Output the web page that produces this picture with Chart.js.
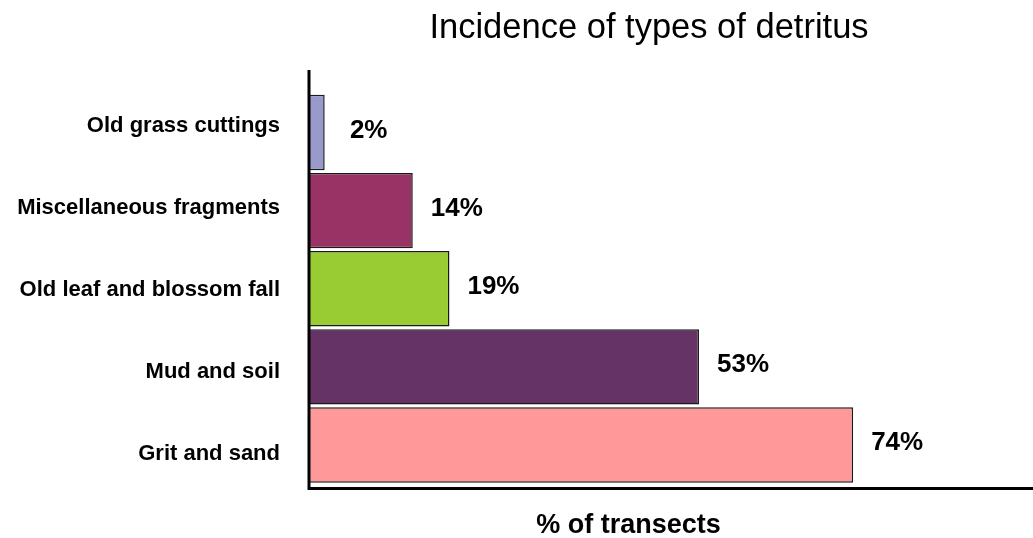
<!DOCTYPE html>
<html>
<head>
<meta charset="utf-8">
<script src="https://cdn.jsdelivr.net/npm/chart.js@4.4.1/dist/chart.umd.min.js"></script>
<style>
    body { margin: 0; background: #fff; }
    #wrap { width: 1033px; height: 538px; position: relative; }
</style>
</head>
<body>
<div id="wrap"><canvas id="detritusChart"></canvas></div>
<script>
// data
const categories = ['Old grass cuttings', 'Miscellaneous fragments', 'Old leaf and blossom fall', 'Mud and soil', 'Grit and sand'];
const percentValues = [2, 14, 19, 53, 74];
const valueLabels = ['2%', '14%', '19%', '53%', '74%'];
const chartTitle = 'Incidence of types of detritus';
const xAxisTitle = '% of transects';

const barColors = ['#9999cc', '#993366', '#99cc33', '#663366', '#ff9999'];
const FONT = '"Liberation Sans", Arial, sans-serif';

// axis lines, value labels and titles
const extrasPlugin = {
    id: 'extras',
    afterDatasetsDraw(chart) {
        const { ctx, chartArea } = chart;
        const meta = chart.getDatasetMeta(0);
        ctx.save();

        ctx.strokeStyle = '#000';
        ctx.lineWidth = 3;
        ctx.beginPath();
        ctx.moveTo(chartArea.left - 1, chartArea.top - 23.5);
        ctx.lineTo(chartArea.left - 1, chartArea.bottom + 6);
        ctx.moveTo(chartArea.left - 2.5, chartArea.bottom + 4.5);
        ctx.lineTo(chart.width, chartArea.bottom + 4.5);
        ctx.stroke();

        ctx.fillStyle = '#000';
        ctx.textAlign = 'center';
        ctx.textBaseline = 'middle';
        ctx.font = 'bold 26px ' + FONT;
        meta.data.forEach((bar, i) => {
            ctx.fillText(valueLabels[i], bar.x + 44, bar.y - 2);
        });

        ctx.textBaseline = 'alphabetic';
        ctx.font = '34.5px ' + FONT;
        ctx.fillText(chartTitle, 649, 38);
        ctx.font = 'bold 27px ' + FONT;
        ctx.fillText(xAxisTitle, 628.5, 533);

        ctx.restore();
    }
};

new Chart(document.getElementById('detritusChart'), {
    type: 'bar',
    data: {
        labels: categories,
        datasets: [{
            data: percentValues,
            backgroundColor: barColors,
            borderColor: '#1a1a1a',
            borderWidth: 1.5,
            barPercentage: 0.965,
            categoryPercentage: 1
        }]
    },
    options: {
        indexAxis: 'y',
        responsive: true,
        maintainAspectRatio: false,
        animation: false,
        layout: { padding: { top: 93.5, bottom: 54, left: 0, right: 0 } },
        plugins: {
            legend: { display: false },
            tooltip: { enabled: false }
        },
        scales: {
            x: { min: 0, max: 98.5, display: false },
            y: { display: false },
            // label axis: text rows are spaced a little wider than the bars
            yl: {
                type: 'linear',
                position: 'left',
                reverse: true,
                offset: false,
                bounds: 'data',
                afterDataLimits: (scale) => {
                    scale.min = -0.4;
                    scale.max = 4.368;
                },
                afterBuildTicks: (scale) => {
                    scale.ticks = categories.map((c, i) => ({ value: i }));
                },
                afterFit: (scale) => { scale.width = 310; },
                grid: { display: false, drawTicks: false },
                border: { display: false },
                ticks: {
                    padding: 30,
                    color: '#000',
                    font: { family: FONT, size: 22, weight: 'bold' },
                    callback: (value) => categories[value]
                }
            }
        }
    },
    plugins: [extrasPlugin]
});
</script>
</body>
</html>
